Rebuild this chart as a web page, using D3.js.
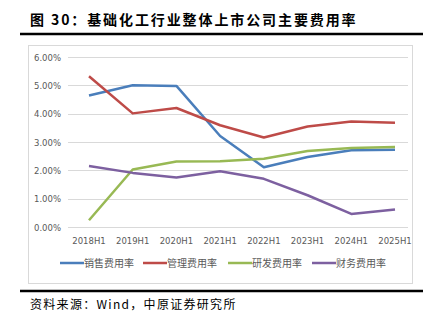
<!DOCTYPE html>
<html><head><meta charset="utf-8">
<script src="https://cdn.jsdelivr.net/npm/d3@7"></script>
<style>body{margin:0;background:#fff}svg{display:block}</style>
</head><body>
<script>
const categories = ["2018H1","2019H1","2020H1","2021H1","2022H1","2023H1","2024H1","2025H1"];
const seriesNames = ["销售费用率","管理费用率","研发费用率","财务费用率"];
const seriesColors = ["#4a7ebb","#be4b48","#98b954","#7d60a0"];
const sales = [4.64, 5.0, 4.98, 3.21, 2.11, 2.47, 2.71, 2.73];
const admin = [5.32, 4.01, 4.2, 3.59, 3.16, 3.55, 3.72, 3.68];
const rnd = [0.24, 2.03, 2.31, 2.32, 2.41, 2.68, 2.79, 2.82];
const fin = [2.15, 1.91, 1.75, 1.97, 1.7, 1.12, 0.46, 0.62];
const yTicks = [0,1,2,3,4,5,6];
const title = "图 30：基础化工行业整体上市公司主要费用率";
const source = "资料来源：Wind，中原证券研究所";

const W=431,H=325;
const svg=d3.select("body").append("svg").attr("width",W).attr("height",H);
const font="'Noto Sans CJK SC','DejaVu Sans',sans-serif";

svg.append("text").attr("x",30).attr("y",25).attr("font-family",font).attr("font-weight","bold")
  .attr("font-size",14).attr("letter-spacing",1.9).attr("fill","#000").text(title);
svg.append("line").attr("x1",20).attr("x2",423).attr("y1",34).attr("y2",34).attr("stroke","#000").attr("stroke-width",2.5);

svg.append("rect").attr("x",28.5).attr("y",45.5).attr("width",384).attr("height",238).attr("fill","none").attr("stroke","#d9d9d9");

const x=d3.scalePoint().domain(categories).range([89,395]);
const y=d3.scaleLinear().domain([0,6]).range([227,57]);

const g=svg.append("g");
g.selectAll("line.grid").data(yTicks).enter().append("line")
  .attr("x1",68).attr("x2",408).attr("y1",d=>Math.round(y(d))+0.5).attr("y2",d=>Math.round(y(d))+0.5)
  .attr("stroke","#d9d9d9").attr("stroke-width",1);
g.selectAll("text.yl").data(yTicks).enter().append("text")
  .attr("x",61).attr("y",d=>y(d)+3.5).attr("text-anchor","end")
  .attr("font-family","'DejaVu Sans',sans-serif").attr("font-size",8.5).attr("fill","#595959")
  .text(d=>d3.format(".2f")(d)+"%");
g.selectAll("text.xl").data(categories).enter().append("text")
  .attr("x",d=>x(d)).attr("y",244).attr("text-anchor","middle")
  .attr("font-family","'DejaVu Sans',sans-serif").attr("font-size",8.5).attr("fill","#595959")
  .text(d=>d);

const all=[sales,admin,rnd,fin];
const line=d3.line().x((d,i)=>x(categories[i])).y(d=>y(d));
all.forEach((s,k)=>{
  g.append("path").datum(s).attr("d",line).attr("fill","none")
   .attr("stroke",seriesColors[k]).attr("stroke-width",2.5).attr("stroke-linejoin","round");
});

const legX=[60,143,228,312];
seriesNames.forEach((n,k)=>{
  svg.append("line").attr("x1",legX[k]).attr("x2",legX[k]+24).attr("y1",263).attr("y2",263)
    .attr("stroke",seriesColors[k]).attr("stroke-width",2.5);
  svg.append("text").attr("x",legX[k]+24).attr("y",267).attr("font-family",font)
    .attr("font-size",10).attr("fill","#595959").text(n);
});

svg.append("line").attr("x1",20).attr("x2",423).attr("y1",291).attr("y2",291).attr("stroke","#000").attr("stroke-width",2.5);
svg.append("text").attr("x",30).attr("y",309).attr("font-family",font).attr("font-size",12).attr("letter-spacing",1.3).attr("fill","#000").text(source);
</script>
</body></html>
